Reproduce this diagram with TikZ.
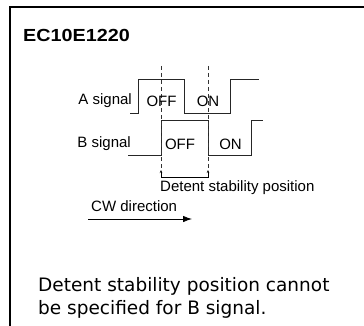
\documentclass[tikz,border=0pt]{standalone}
\usepackage{fontspec}
\setmainfont{Liberation Sans}
\newfontfamily\notefont{DejaVu Sans}
\usetikzlibrary{positioning,arrows.meta}

\begin{document}
\begin{tikzpicture}[
  x=1pt, y=-1pt,
  wave/.style={line width=0.8pt, black!85},
  detent/.style={line width=0.7pt, black!80, dash pattern=on 4pt off 3pt},
  sig/.style={font=\fontsize{15}{15}\selectfont, inner sep=0pt},
  note/.style={font=\notefont\fontsize{18.5}{20}\selectfont, inner sep=0pt, anchor=base west},
  >=Latex
]
\useasboundingbox (0,0) rectangle (364,326);
% Frame (open at right and bottom)
\draw[line width=2pt] (9.5,326) -- (9.5,7.5) -- (364,7.5);

% Title
\node[anchor=west, inner sep=0pt, font=\bfseries\fontsize{17.5}{18}\selectfont] (title) at (23,35) {\scalebox{1.13}[1]{EC10E1220}};

% Signal names
\node[sig, anchor=east] (asig) at (132,101) {A signal};
\node[sig, anchor=east] (bsig) at (131,144) {B signal};

% Waveforms
\draw[wave] (130,113) -- (138,113) -- (138,79) -- (184,79) -- (184,113) -- (230,113) -- (230,79) -- (259,79);
\draw[wave] (128,155) -- (161,155) -- (161,120) -- (208,120) -- (208,155) -- (251,155) -- (251,120) -- (263,120);

% Detent positions
\coordinate (d1top) at (161,66);
\coordinate (d2top) at (208,66);
\coordinate (d1bot) at (161,170);
\coordinate (d2bot) at (208,170);
\draw[detent] (d1top) -- (d1bot);
\draw[detent] (d2top) -- (d2bot);
\draw[line width=0.7pt, {Stealth[length=3pt,width=2.5pt]}-{Stealth[length=3pt,width=2.5pt]}] (d1bot) -- ++(0,7) -| (d2bot);

% State labels
\node[sig] (aoff) at (161.5,101) {OFF};
\node[sig] (aon) at (208,101) {ON};
\node[sig] (boff) at (180,144) {OFF};
\node[sig] (bon) at (230.5,144) {ON};

% Detent and direction
\node[sig, anchor=west] (detentlbl) at (160,188) {Detent stability position};
\node[sig, anchor=west] (cwlbl) at (91,206) {CW direction};
\coordinate (cwstart) at (88,219);
\coordinate (cwend) at (192,219);
\draw[line width=0.8pt, -{Latex[length=9pt,width=6.5pt]}] (cwstart) -- (cwend);

% Note
\node[note] (note1) at (38,291) {Detent stability position cannot};
\node[note] (note2) at ([yshift=-23pt]note1.base west) {be specified for B signal.};
\end{tikzpicture}
\end{document}
